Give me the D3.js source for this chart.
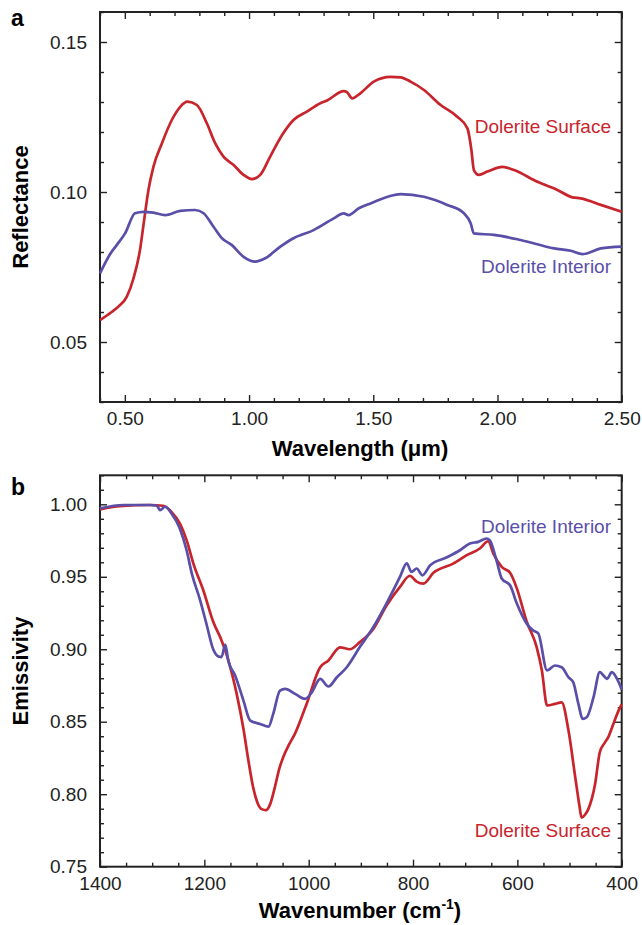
<!DOCTYPE html>
<html>
<head>
<meta charset="utf-8">
<script src="https://cdn.jsdelivr.net/npm/d3@7"></script>
<style>
  body { margin: 0; background: #fff; }
  svg { font-family: "Liberation Sans", Arial, sans-serif; }
</style>
</head>
<body>
<div id="vis"></div>
<script>
// panel a: reflectance spectra [wavelength µm, reflectance]
const reflSurface = [
  [0.40,0.0573],[0.447,0.0600],[0.474,0.0618],[0.508,0.0651],[0.534,0.0710],[0.561,0.0807],
  [0.575,0.0890],[0.595,0.1007],[0.615,0.1084],[0.649,0.1162],[0.689,0.1240],[0.723,0.1284],
  [0.752,0.1301],[0.790,0.1290],[0.830,0.1229],[0.864,0.1162],[0.897,0.1118],[0.938,0.1090],
  [0.978,0.1057],[1.012,0.1043],[1.045,0.1057],[1.085,0.1118],[1.133,0.1190],[1.179,0.1240],
  [1.233,0.1268],[1.287,0.1296],[1.314,0.1305],[1.381,0.1336],[1.395,0.1332],[1.415,0.1312],
  [1.448,0.1329],[1.502,0.1368],[1.569,0.1384],[1.610,0.1382],[1.650,0.1368],[1.704,0.1340],
  [1.771,0.1290],[1.838,0.1251],[1.879,0.1212],[1.895,0.1140],[1.905,0.1073],[1.925,0.1057],
  [1.959,0.1068],[2.020,0.1084],[2.067,0.1073],[2.161,0.1034],[2.241,0.1007],[2.302,0.0982],
  [2.335,0.0979],[2.416,0.0957],[2.500,0.0934]
]
const reflInterior = [
  [0.400,0.0729],[0.443,0.0796],[0.467,0.0823],[0.501,0.0862],[0.541,0.0929],[0.575,0.0934],
  [0.615,0.0931],[0.662,0.0923],[0.723,0.0937],[0.783,0.0940],[0.817,0.0929],[0.857,0.0884],
  [0.891,0.0846],[0.931,0.0823],[0.978,0.0784],[1.025,0.0768],[1.065,0.0779],[1.126,0.0818],
  [1.179,0.0846],[1.260,0.0873],[1.341,0.0912],[1.381,0.0929],[1.401,0.0923],[1.442,0.0946],
  [1.489,0.0962],[1.610,0.0993],[1.704,0.0984],[1.798,0.0957],[1.865,0.0929],[1.892,0.0896],
  [1.905,0.0862],[1.986,0.0857],[2.093,0.0840],[2.228,0.0812],[2.295,0.0804],[2.342,0.0793],
  [2.416,0.0812],[2.500,0.0818]
]

// panel b: emissivity spectra [wavenumber cm-1, emissivity]
const emisSurface = [
  [1400,0.9965],[1362,0.9988],[1304,0.9995],[1279,0.9990],[1263,0.9948],[1247,0.9868],
  [1234,0.9753],[1221,0.9591],[1202,0.9407],[1183,0.9190],[1167,0.9061],[1160,0.8992],
  [1154,0.8923],[1138,0.8692],[1125,0.8450],[1115,0.8220],[1106,0.8040],[1098,0.7940],
  [1090,0.7897],[1082,0.7890],[1074,0.7930],[1065,0.8046],[1056,0.8180],[1049,0.8254],
  [1038,0.8340],[1026,0.8420],[1004,0.8623],[978,0.8876],[962,0.8923],
  [940,0.9013],[921,0.9000],[902,0.9049],[876,0.9140],[851,0.9300],[825,0.9430],
  [806,0.9507],[793,0.9467],[780,0.9453],[761,0.9527],[723,0.9591],[697,0.9649],
  [672,0.9695],[656,0.9745],[646,0.9660],[630,0.9568],[614,0.9528],[601,0.9420],
  [582,0.9190],[563,0.9015],[553,0.8854],[543,0.8612],[528,0.8623],[515,0.8634],
  [502,0.8439],[489,0.8116],[481,0.7920],[477,0.7839],[470,0.7860],[464,0.7897],
  [451,0.8070],[442,0.8289],[432,0.8358],[426,0.8392],[416,0.8485],[406,0.8577],[400,0.8620]
]
const emisInterior = [
  [1400,0.9972],[1355,0.9995],[1304,0.9995],[1291,0.9990],[1285,0.9960],[1275,0.9983],
  [1263,0.9937],[1247,0.9833],[1234,0.9683],[1224,0.9522],[1208,0.9338],[1196,0.9176],
  [1183,0.9000],[1173,0.8950],[1167,0.8946],[1160,0.9032],[1154,0.8920],[1141,0.8819],
  [1125,0.8646],[1112,0.8508],[1093,0.8485],[1077,0.8466],[1068,0.8554],[1055,0.8715],
  [1045,0.8727],[1026,0.8692],[1007,0.8658],[994,0.8703],[978,0.8796],[962,0.8743],
  [946,0.8807],[927,0.8876],[902,0.9015],[876,0.9153],[851,0.9315],[825,0.9499],
  [812,0.9593],[803,0.9533],[793,0.9557],[782,0.9510],[767,0.9580],[736,0.9633],
  [710,0.9683],[691,0.9730],[675,0.9741],[659,0.9764],[653,0.9753],[640,0.9614],
  [630,0.9488],[614,0.9441],[601,0.9315],[582,0.9176],[570,0.9130],[560,0.9110],
  [543,0.8854],[528,0.8888],[515,0.8876],[502,0.8807],[493,0.8773],[483,0.8623],
  [475,0.8520],[467,0.8531],[454,0.8669],[442,0.8842],[435,0.8819],[428,0.8796],
  [419,0.8842],[409,0.8796],[403,0.8750],[400,0.8720]
]

// tick labels
const wlTicks = [0.5, 1.0, 1.5, 2.0, 2.5]
const reflTicks = [0.05, 0.10, 0.15]
const wnTicks = [1400, 1200, 1000, 800, 600, 400]
const emisTicks = [0.75, 0.80, 0.85, 0.90, 0.95, 1.00]

const red = '#c8242c', blue = '#5a4fa8'
const W = 642, H = 925
const left = 100, right = 621.7

const svg = d3.select('#vis').append('svg')
  .attr('width', W).attr('height', H)

function minorTicks(lo, hi, step, majors) {
  const n = Math.round((hi - lo) / step)
  const out = []
  for (let i = 0; i <= n; i++) {
    const v = +(lo + i * step).toFixed(4)
    if (!majors.some(m => Math.abs(m - v) < 1e-6)) out.push(v)
  }
  return out
}

function drawPanel(opts) {
  const x = d3.scaleLinear().domain(opts.xDomain).range([left, right])
  const y = d3.scaleLinear().domain(opts.yDomain).range([opts.bottom, opts.top])
  const g = svg.append('g')

  const xMinor = minorTicks(Math.min(...opts.xDomain), Math.max(...opts.xDomain), opts.xStep, opts.xTicks)
  const yMinor = minorTicks(opts.yDomain[0], opts.yDomain[1], opts.yStep, opts.yTicks)

  const styleAxis = sel => {
    sel.select('.domain').remove()
    sel.selectAll('line').attr('stroke', '#222').attr('stroke-width', 1.4)
    sel.selectAll('text').attr('fill', '#222').style('font-size', '19px')
  }

  // bottom + top
  g.append('g').attr('transform', `translate(0,${opts.bottom})`)
    .call(d3.axisBottom(x).tickValues(opts.xTicks).tickSize(-7).tickPadding(10).tickFormat(opts.xFormat))
    .call(styleAxis)
  g.append('g').attr('transform', `translate(0,${opts.bottom})`)
    .call(d3.axisBottom(x).tickValues(xMinor).tickSize(-4).tickFormat(''))
    .call(styleAxis)
  g.append('g').attr('transform', `translate(0,${opts.top})`)
    .call(d3.axisTop(x).tickValues(opts.xTicks).tickSize(-7).tickFormat(''))
    .call(styleAxis)
  g.append('g').attr('transform', `translate(0,${opts.top})`)
    .call(d3.axisTop(x).tickValues(xMinor).tickSize(-4).tickFormat(''))
    .call(styleAxis)

  // left + right
  g.append('g').attr('transform', `translate(${left},0)`)
    .call(d3.axisLeft(y).tickValues(opts.yTicks).tickSize(-7).tickPadding(13).tickFormat(d3.format('.2f')))
    .call(styleAxis)
  g.append('g').attr('transform', `translate(${left},0)`)
    .call(d3.axisLeft(y).tickValues(yMinor).tickSize(-4).tickFormat(''))
    .call(styleAxis)
  g.append('g').attr('transform', `translate(${right},0)`)
    .call(d3.axisRight(y).tickValues(opts.yTicks).tickSize(-7).tickFormat(''))
    .call(styleAxis)
  g.append('g').attr('transform', `translate(${right},0)`)
    .call(d3.axisRight(y).tickValues(yMinor).tickSize(-4).tickFormat(''))
    .call(styleAxis)

  // frame
  g.append('rect')
    .attr('x', left).attr('y', opts.top)
    .attr('width', right - left).attr('height', opts.bottom - opts.top)
    .attr('fill', 'none').attr('stroke', '#222').attr('stroke-width', 2)

  const line = d3.line().x(d => x(d[0])).y(d => y(d[1])).curve(opts.curve)

  opts.series.forEach(s => {
    g.append('path')
      .datum(s.data)
      .attr('d', line)
      .attr('fill', 'none')
      .attr('stroke', s.color)
      .attr('stroke-width', 2.7)
      .attr('stroke-linejoin', 'round')
  })

  opts.labels.forEach(l => {
    g.append('text')
      .attr('x', 611).attr('y', l.y)
      .attr('text-anchor', 'end')
      .style('font-size', '19px')
      .attr('fill', l.color)
      .text(l.text)
  })

  // y axis title
  g.append('text')
    .attr('transform', `translate(28,${(opts.top + opts.bottom) / 2}) rotate(-90)`)
    .attr('text-anchor', 'middle')
    .style('font-size', '22px').style('font-weight', 'bold')
    .text(opts.yTitle)

  // panel letter
  g.append('text')
    .attr('x', 11).attr('y', opts.letterY)
    .style('font-size', '23px').style('font-weight', 'bold')
    .text(opts.letter)

  return g
}

const gA = drawPanel({
  xDomain: [0.4, 2.5], yDomain: [0.03, 0.16], top: 12, bottom: 402,
  xTicks: wlTicks, yTicks: reflTicks, xStep: 0.1, yStep: 0.01,
  xFormat: d3.format('.2f'),
  curve: d3.curveMonotoneX,
  series: [{ data: reflSurface, color: red }, { data: reflInterior, color: blue }],
  labels: [
    { text: 'Dolerite Surface', y: 133, color: red },
    { text: 'Dolerite Interior', y: 273, color: blue }
  ],
  yTitle: 'Reflectance', letter: 'a', letterY: 26
})
gA.append('text')
  .attr('x', 360).attr('y', 456)
  .attr('text-anchor', 'middle')
  .style('font-size', '22px').style('font-weight', 'bold')
  .text('Wavelength (μm)')

const gB = drawPanel({
  xDomain: [1400, 400], yDomain: [0.75, 1.02], top: 475.3, bottom: 866.7,
  xTicks: wnTicks, yTicks: emisTicks, xStep: 50, yStep: 0.01,
  xFormat: d3.format('d'),
  curve: d3.curveMonotoneX,
  series: [{ data: emisSurface, color: red }, { data: emisInterior, color: blue }],
  labels: [
    { text: 'Dolerite Interior', y: 533, color: blue },
    { text: 'Dolerite Surface', y: 837, color: red }
  ],
  yTitle: 'Emissivity', letter: 'b', letterY: 495
})
const wt = gB.append('text')
  .attr('x', 360).attr('y', 918)
  .attr('text-anchor', 'middle')
  .style('font-size', '22px').style('font-weight', 'bold')
wt.append('tspan').text('Wavenumber (cm')
wt.append('tspan').text('-1').style('font-size', '14px').attr('dy', -9)
wt.append('tspan').text(')').attr('dy', 9)
</script>
</body>
</html>
